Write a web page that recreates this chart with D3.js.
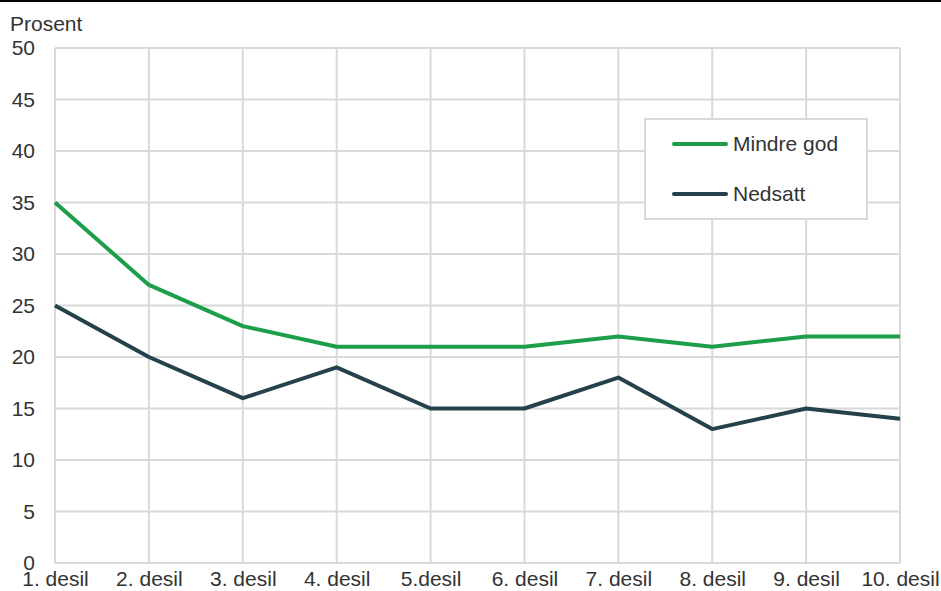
<!DOCTYPE html>
<html>
<head>
<meta charset="utf-8">
<script src="https://cdn.jsdelivr.net/npm/d3@7"></script>
<style>
  html, body { margin: 0; padding: 0; background: #fff; }
  svg { display: block; font-family: "Liberation Sans", Arial, sans-serif; }
</style>
</head>
<body>
<svg id="chart" width="941" height="591"></svg>
<script>
// Andel med mindre god / nedsatt helse etter inntektsdesil
const categories = ["1. desil", "2. desil", "3. desil", "4. desil", "5.desil",
                    "6. desil", "7. desil", "8. desil", "9. desil", "10. desil"];
const mindreGod = [35, 27, 23, 21, 21, 21, 22, 21, 22, 22];
const nedsatt   = [25, 20, 16, 19, 15, 15, 18, 13, 15, 14];
const yTicks    = [0, 5, 10, 15, 20, 25, 30, 35, 40, 45, 50];
const seriesNames = ["Mindre god", "Nedsatt"];
const seriesColors = ["#1d9e48", "#25424a"];

(function () {
  const svg = d3.select("#chart");
  const W = 941;
  const plotLeft = 55, plotRight = 900, plotTop = 48, plotBottom = 563;
  const fontSize = 21;
  const textColor = "#333";

  // thin rule across the top edge
  svg.append("line")
    .attr("x1", 0).attr("x2", W).attr("y1", 1).attr("y2", 1)
    .attr("stroke", "#000").attr("stroke-width", 2);

  const x = d3.scalePoint().domain(categories).range([plotLeft, plotRight]);
  const y = d3.scaleLinear().domain([0, 50]).range([plotBottom, plotTop]);

  // horizontal gridlines
  svg.append("g").selectAll("line").data(yTicks).join("line")
    .attr("x1", plotLeft).attr("x2", plotRight)
    .attr("y1", d => y(d)).attr("y2", d => y(d))
    .attr("stroke", "#d9d9d9").attr("stroke-width", 2);

  // vertical gridlines
  svg.append("g").selectAll("line").data(categories).join("line")
    .attr("x1", d => x(d)).attr("x2", d => x(d))
    .attr("y1", plotTop).attr("y2", plotBottom)
    .attr("stroke", "#d9d9d9").attr("stroke-width", 2);

  // y axis labels
  const yAxis = d3.axisLeft(y).tickValues(yTicks).tickSize(0).tickPadding(20);
  const gy = svg.append("g").attr("transform", `translate(${plotLeft},0)`).call(yAxis);
  gy.select(".domain").remove();
  gy.selectAll("text").attr("font-size", fontSize).attr("fill", textColor)
    .attr("font-family", "Liberation Sans, Arial, sans-serif");

  // x axis labels
  const xAxis = d3.axisBottom(x).tickSize(0).tickPadding(8);
  const gx = svg.append("g").attr("transform", `translate(0,${plotBottom})`).call(xAxis);
  gx.select(".domain").remove();
  gx.selectAll("text").attr("font-size", fontSize).attr("fill", textColor)
    .attr("font-family", "Liberation Sans, Arial, sans-serif");

  // axis title
  svg.append("text").attr("x", 10).attr("y", 31)
    .attr("font-size", fontSize).attr("fill", textColor).text("Prosent");

  // series lines
  const line = d3.line().x((d, i) => x(categories[i])).y(d => y(d));
  [mindreGod, nedsatt].forEach((vals, k) => {
    svg.append("path").datum(vals)
      .attr("d", line)
      .attr("fill", "none")
      .attr("stroke", seriesColors[k])
      .attr("stroke-width", 4)
      .attr("stroke-linejoin", "round");
  });

  // legend
  const lg = svg.append("g");
  lg.append("rect").attr("x", 645).attr("y", 119).attr("width", 222).attr("height", 100)
    .attr("fill", "#fff").attr("stroke", "#d9d9d9").attr("stroke-width", 2);
  seriesNames.forEach((name, i) => {
    const ly = 144 + i * 50;
    lg.append("line").attr("x1", 674).attr("x2", 726).attr("y1", ly).attr("y2", ly)
      .attr("stroke", seriesColors[i]).attr("stroke-width", 4).attr("stroke-linecap", "round");
    lg.append("text").attr("x", 733).attr("y", ly + 7)
      .attr("font-size", fontSize).attr("fill", textColor).text(name);
  });
})();
</script>
</body>
</html>
